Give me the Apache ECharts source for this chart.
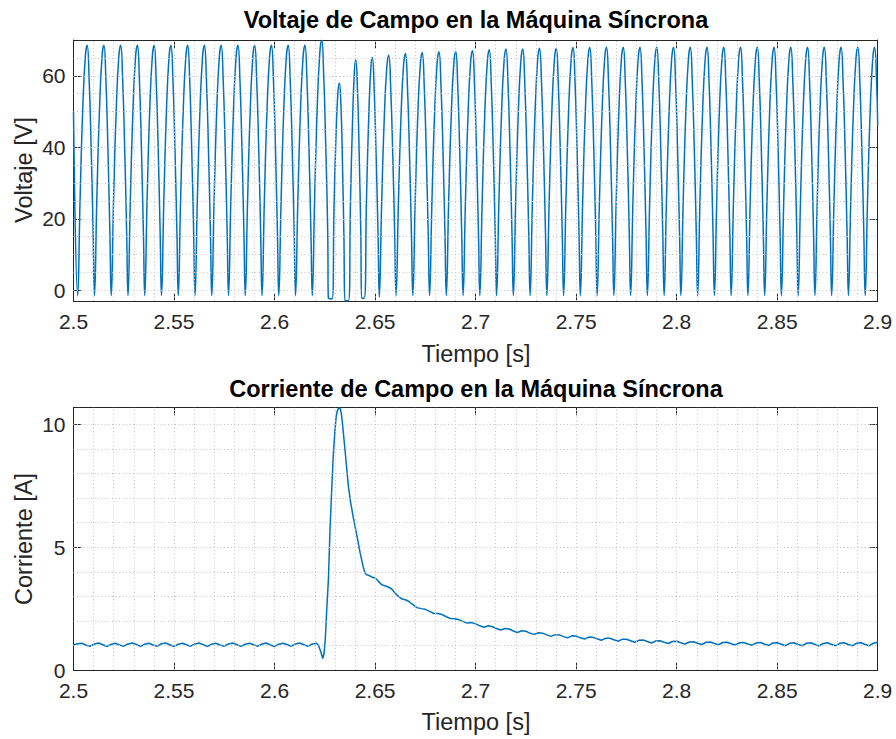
<!DOCTYPE html>
<html><head><meta charset="utf-8">
<script src="https://cdn.jsdelivr.net/npm/echarts@6/dist/echarts.min.js"></script>
<style>html,body{margin:0;padding:0;background:#fff}#c{width:896px;height:739px}</style>
</head><body><div id="c"></div>
<script>
// ---------- Voltage (top plot) ----------
const voltTime = [
2.5,
2.5021, 2.50327, 2.5046, 2.50585, 2.50677, 2.50777, 2.50877, 2.50977,
2.51043, 2.5116, 2.51293, 2.51418, 2.5151, 2.5161, 2.5171, 2.5181,
2.51877, 2.51994, 2.52127, 2.52252, 2.52344, 2.52444, 2.52544, 2.52644,
2.5271, 2.52827, 2.5296, 2.53085, 2.53177, 2.53277, 2.53377, 2.53477,
2.53543, 2.5366, 2.53793, 2.53918, 2.5401, 2.5411, 2.5421, 2.5431,
2.54377, 2.54494, 2.54627, 2.54752, 2.54844, 2.54944, 2.55044, 2.55144,
2.5521, 2.55327, 2.5546, 2.55585, 2.55677, 2.55777, 2.55877, 2.55977,
2.56043, 2.5616, 2.56293, 2.56418, 2.5651, 2.5661, 2.5671, 2.5681,
2.56877, 2.56994, 2.57127, 2.57252, 2.57344, 2.57444, 2.57544, 2.57644,
2.5771, 2.57827, 2.5796, 2.58085, 2.58177, 2.58277, 2.58377, 2.58477,
2.58543, 2.5866, 2.58793, 2.58918, 2.5901, 2.5911, 2.5921, 2.5931,
2.59377, 2.59494, 2.59627, 2.59752, 2.59844, 2.59944, 2.60044, 2.60144,
2.6021, 2.60327, 2.6046, 2.60585, 2.60677, 2.60777, 2.60877, 2.60977,
2.61043, 2.6116, 2.61293, 2.61418, 2.6151, 2.6161, 2.6171, 2.6181,
2.61877, 2.61994, 2.62127, 2.62252, 2.62344, 2.62444, 2.62544, 2.62644,
2.62675, 2.62865, 2.62958, 2.63058, 2.63148, 2.63221, 2.633, 2.6338, 2.6345,
2.63504, 2.63678, 2.63778, 2.63878, 2.63968, 2.64036, 2.6412, 2.6421, 2.6429,
2.64335, 2.64455, 2.64575, 2.64705, 2.648, 2.64862, 2.6495, 2.6505, 2.6515,
2.6521, 2.65327, 2.6546, 2.65585, 2.65677, 2.65777, 2.65877, 2.65977,
2.66043, 2.6616, 2.66293, 2.66418, 2.6651, 2.6661, 2.6671, 2.6681,
2.66877, 2.66994, 2.67127, 2.67252, 2.67344, 2.67444, 2.67544, 2.67644,
2.6771, 2.67827, 2.6796, 2.68085, 2.68177, 2.68277, 2.68377, 2.68477,
2.68543, 2.6866, 2.68793, 2.68918, 2.6901, 2.6911, 2.6921, 2.6931,
2.69377, 2.69494, 2.69627, 2.69752, 2.69844, 2.69944, 2.70044, 2.70144,
2.7021, 2.70327, 2.7046, 2.70585, 2.70677, 2.70777, 2.70877, 2.70977,
2.71043, 2.7116, 2.71293, 2.71418, 2.7151, 2.7161, 2.7171, 2.7181,
2.71877, 2.71994, 2.72127, 2.72252, 2.72344, 2.72444, 2.72544, 2.72644,
2.7271, 2.72827, 2.7296, 2.73085, 2.73177, 2.73277, 2.73377, 2.73477,
2.73543, 2.7366, 2.73793, 2.73918, 2.7401, 2.7411, 2.7421, 2.7431,
2.74377, 2.74494, 2.74627, 2.74752, 2.74844, 2.74944, 2.75044, 2.75144,
2.7521, 2.75327, 2.7546, 2.75585, 2.75677, 2.75777, 2.75877, 2.75977,
2.76043, 2.7616, 2.76293, 2.76418, 2.7651, 2.7661, 2.7671, 2.7681,
2.76877, 2.76994, 2.77127, 2.77252, 2.77344, 2.77444, 2.77544, 2.77644,
2.7771, 2.77827, 2.7796, 2.78085, 2.78177, 2.78277, 2.78377, 2.78477,
2.78543, 2.7866, 2.78793, 2.78918, 2.7901, 2.7911, 2.7921, 2.7931,
2.79377, 2.79494, 2.79627, 2.79752, 2.79844, 2.79944, 2.80044, 2.80144,
2.8021, 2.80327, 2.8046, 2.80585, 2.80677, 2.80777, 2.80877, 2.80977,
2.81043, 2.8116, 2.81293, 2.81418, 2.8151, 2.8161, 2.8171, 2.8181,
2.81877, 2.81994, 2.82127, 2.82252, 2.82344, 2.82444, 2.82544, 2.82644,
2.8271, 2.82827, 2.8296, 2.83085, 2.83177, 2.83277, 2.83377, 2.83477,
2.83543, 2.8366, 2.83793, 2.83918, 2.8401, 2.8411, 2.8421, 2.8431,
2.84377, 2.84494, 2.84627, 2.84752, 2.84844, 2.84944, 2.85044, 2.85144,
2.8521, 2.85327, 2.8546, 2.85585, 2.85677, 2.85777, 2.85877, 2.85977,
2.86043, 2.8616, 2.86293, 2.86418, 2.8651, 2.8661, 2.8671, 2.8681,
2.86877, 2.86994, 2.87127, 2.87252, 2.87344, 2.87444, 2.87544, 2.87644,
2.8771, 2.87827, 2.8796, 2.88085, 2.88177, 2.88277, 2.88377, 2.88477,
2.88543, 2.8866, 2.88793, 2.88918, 2.8901, 2.8911, 2.8921, 2.8931,
2.89377, 2.89494, 2.89627, 2.89752, 2.89844, 2.89944, 2.9
];
const voltValue = [
50,
-1.5, 25.3, 50.7, 65.2, 68.5, 59, 40, 16,
-1.5, 25.3, 50.7, 65.2, 68.5, 59, 40, 16,
-1.5, 25.3, 50.7, 65.2, 68.5, 59, 40, 16,
-1.5, 25.3, 50.7, 65.2, 68.5, 59, 40, 16,
-1.5, 25.3, 50.7, 65.2, 68.5, 59, 40, 16,
-1.5, 25.3, 50.7, 65.2, 68.5, 59, 40, 16,
-1.5, 25.3, 50.7, 65.2, 68.5, 59, 40, 16,
-1.5, 25.3, 50.7, 65.2, 68.5, 59, 40, 16,
-1.5, 25.3, 50.7, 65.2, 68.5, 59, 40, 16,
-1.5, 25.3, 50.7, 65.2, 68.5, 59, 40, 16,
-1.5, 25.3, 50.7, 65.2, 68.5, 59, 40, 16,
-1.5, 25.3, 50.7, 65.2, 68.5, 59, 40, 16,
-1.5, 25.3, 50.7, 65.2, 68.5, 59, 40, 16,
-1.5, 25.3, 50.7, 65.2, 68.5, 59, 40, 16,
-1.5, 25.8, 51.7, 66.5, 69.9, 60.3, 40.8, 16.4,
-2.2, -2.4, 23, 43.6, 55, 58, 52, 35, 15,
-2.9, -2.9, 25, 47, 61, 64.5, 57, 38, 16,
-2.2, -2.2, 26, 52, 63, 65.1, 57, 38, 15,
-1.9, 24.2, 48.6, 62.5, 65.7, 56.6, 38.3, 15.3,
-1.5, 24.4, 49.0, 63.0, 66.2, 57.0, 38.6, 15.4,
-1.5, 24.5, 49.2, 63.3, 66.5, 57.3, 38.8, 15.5,
-1.5, 24.6, 49.4, 63.5, 66.7, 57.4, 39.0, 15.6,
-1.5, 24.7, 49.4, 63.6, 66.8, 57.5, 39.0, 15.6,
-1.5, 24.7, 49.6, 63.8, 67.0, 57.7, 39.1, 15.6,
-1.5, 24.9, 49.8, 64.1, 67.3, 58.0, 39.3, 15.7,
-1.5, 24.9, 50.0, 64.3, 67.5, 58.1, 39.4, 15.8,
-1.5, 24.9, 50.0, 64.3, 67.5, 58.1, 39.4, 15.8,
-1.5, 25.0, 50.1, 64.4, 67.7, 58.3, 39.5, 15.8,
-1.5, 25.0, 50.1, 64.4, 67.7, 58.3, 39.5, 15.8,
-1.5, 25.1, 50.3, 64.6, 67.9, 58.5, 39.7, 15.9,
-1.5, 25.1, 50.3, 64.6, 67.9, 58.5, 39.7, 15.9,
-1.5, 25.1, 50.3, 64.7, 68.0, 58.5, 39.7, 15.9,
-1.5, 25.1, 50.3, 64.7, 68.0, 58.5, 39.7, 15.9,
-1.5, 25.1, 50.3, 64.7, 68.0, 58.5, 39.7, 15.9,
-1.5, 25.1, 50.3, 64.7, 68.0, 58.5, 39.7, 15.9,
-1.5, 25.1, 50.3, 64.7, 68.0, 58.5, 39.7, 15.9,
-1.5, 25.1, 50.3, 64.7, 68.0, 58.5, 39.7, 15.9,
-1.5, 25.1, 50.3, 64.7, 68.0, 58.5, 39.7, 15.9,
-1.5, 25.1, 50.3, 64.7, 68.0, 58.5, 39.7, 15.9,
-1.5, 25.1, 50.3, 64.7, 68.0, 58.5, 39.7, 15.9,
-1.5, 25.1, 50.3, 64.7, 68.0, 58.5, 39.7, 15.9,
-1.5, 25.1, 50.3, 64.7, 68.0, 58.5, 39.7, 15.9,
-1.5, 25.1, 50.3, 64.7, 68.0, 58.5, 39.7, 15.9,
-1.5, 25.1, 50.3, 64.7, 68.0, 58.5, 39.7, 15.9,
-1.5, 25.1, 50.3, 64.7, 68.0, 58.5, 39.7, 15.9,
-1.5, 25.1, 50.3, 64.7, 68.0, 58.5, 39.7, 15.9,
-1.5, 25.1, 50.3, 64.7, 68.0, 58.5, 39.7, 15.9,
-1.5, 25.1, 50.3, 64.7, 68.0, 58.5, 46
];

// ---------- Current (bottom plot) ----------
const currTime = [
2.5, 2.5021, 2.5042, 2.5063, 2.5083, 2.5104, 2.5125, 2.5146, 2.5167, 2.5188, 2.5208, 2.5229,
2.525, 2.5271, 2.5292, 2.5313, 2.5333, 2.5354, 2.5375, 2.5396, 2.5417, 2.5438, 2.5458, 2.5479,
2.55, 2.5521, 2.5542, 2.5563, 2.5583, 2.5604, 2.5625, 2.5646, 2.5667, 2.5688, 2.5708, 2.5729,
2.575, 2.5771, 2.5792, 2.5813, 2.5833, 2.5854, 2.5875, 2.5896, 2.5917, 2.5938, 2.5958, 2.5979,
2.6, 2.6021, 2.6042, 2.6063, 2.6083, 2.6104, 2.6125, 2.6146, 2.6167, 2.6188, 2.6208,
2.6218, 2.623, 2.624, 2.6246, 2.6252, 2.6259, 2.6268, 2.6276, 2.6284, 2.6292, 2.63, 2.6306,
2.6312, 2.6317, 2.6322, 2.6327, 2.6332, 2.6337, 2.6343, 2.635, 2.6358, 2.6367, 2.6379, 2.6392,
2.6409, 2.6425, 2.6441, 2.645, 2.6458, 2.647, 2.6483, 2.6495, 2.6508, 2.652, 2.6533, 2.6545,
2.6558, 2.657, 2.6583, 2.6595, 2.6608, 2.662, 2.6632, 2.6645, 2.6657, 2.667, 2.6682, 2.6695, 2.6708,
2.6729, 2.675, 2.6771, 2.6792, 2.6813, 2.6833, 2.6854, 2.6875, 2.6896, 2.6917, 2.6938, 2.6958,
2.6979, 2.7, 2.7021, 2.7042, 2.7063, 2.7083, 2.7104, 2.7125, 2.7146, 2.7167, 2.7188, 2.7208,
2.7229, 2.725, 2.7271, 2.7292, 2.7313, 2.7333, 2.7354, 2.7375, 2.7396, 2.7417, 2.7438, 2.7458,
2.7479, 2.75, 2.7521, 2.7542, 2.7563, 2.7583, 2.7604, 2.7625, 2.7646, 2.7667, 2.7688, 2.7708,
2.7729, 2.775, 2.7771, 2.7792, 2.7813, 2.7833, 2.7854, 2.7875, 2.7896, 2.7917, 2.7938, 2.7958,
2.7979, 2.8, 2.8021, 2.8042, 2.8063, 2.8083, 2.8104, 2.8125, 2.8146, 2.8167, 2.8188, 2.8208,
2.8229, 2.825, 2.8271, 2.8292, 2.8313, 2.8333, 2.8354, 2.8375, 2.8396, 2.8417, 2.8438, 2.8458,
2.8479, 2.85, 2.8521, 2.8542, 2.8563, 2.8583, 2.8604, 2.8625, 2.8646, 2.8667, 2.8688, 2.8708,
2.8729, 2.875, 2.8771, 2.8792, 2.8813, 2.8833, 2.8854, 2.8875, 2.8896, 2.8917, 2.8938, 2.8958,
2.8979, 2.9
];
const currValue = [
1.03, 1.07, 1.09, 1.01, 0.97, 1.06, 1.10, 1.03, 0.96, 1.05, 1.09, 1.02,
0.97, 1.06, 1.10, 1.04, 0.96, 1.05, 1.09, 1.02, 0.97, 1.07, 1.10, 1.03,
0.96, 1.05, 1.09, 1.02, 0.97, 1.06, 1.10, 1.03, 0.96, 1.05, 1.09, 1.02,
0.97, 1.06, 1.10, 1.03, 0.96, 1.05, 1.09, 1.03, 0.97, 1.06, 1.10, 1.02,
0.96, 1.05, 1.09, 1.03, 0.97, 1.06, 1.10, 1.03, 0.97, 1.06, 1.09,
1.02, 0.74, 0.47, 0.66, 1.2, 2.37, 3.7, 5.76, 7.3, 8.74, 9.7, 10.3,
10.55, 10.65, 10.68, 10.64, 10.45, 10.1, 9.6, 9.0, 8.3, 7.5, 6.8, 6.2,
5.5, 4.8, 4.2, 3.95, 3.88, 3.85, 3.79, 3.76, 3.7, 3.58, 3.47, 3.44,
3.4, 3.36, 3.3, 3.18, 3.06, 2.98, 2.9, 2.87, 2.84, 2.78, 2.7, 2.62, 2.54,
2.50, 2.47, 2.39, 2.30, 2.30, 2.26, 2.17, 2.10, 2.09, 2.05, 1.97, 1.91,
1.93, 1.88, 1.80, 1.74, 1.80, 1.76, 1.69, 1.63, 1.69, 1.67, 1.59, 1.53,
1.60, 1.58, 1.50, 1.45, 1.52, 1.50, 1.43, 1.37, 1.44, 1.43, 1.36, 1.31,
1.39, 1.38, 1.31, 1.26, 1.34, 1.33, 1.27, 1.21, 1.29, 1.29, 1.23, 1.17,
1.25, 1.25, 1.19, 1.13, 1.21, 1.22, 1.16, 1.10, 1.18, 1.19, 1.13, 1.08,
1.16, 1.17, 1.11, 1.06, 1.14, 1.15, 1.09, 1.04, 1.13, 1.14, 1.08, 1.03,
1.12, 1.13, 1.07, 1.02, 1.11, 1.12, 1.06, 1.01, 1.10, 1.12, 1.05, 1.00,
1.10, 1.11, 1.05, 0.99, 1.09, 1.11, 1.04, 0.99, 1.09, 1.11, 1.04, 0.98,
1.08, 1.11, 1.04, 0.99, 1.09, 1.11, 1.04, 0.99, 1.09, 1.11, 1.04, 0.99,
1.09, 1.13
];

// ---------- Ticks and grid values ----------
const timeRange = [2.5, 2.9];
const voltRange = [-3, 70];
const currRange = [0, 10.7];
const voltYTicks = [0, 20, 40, 60];
const currYTicks = [0, 5, 10];
const timeGrid = [2.51,2.52,2.53,2.54,2.55,2.56,2.57,2.58,2.59,2.6,2.61,2.62,2.63,2.64,2.65,2.66,2.67,2.68,2.69,2.7,2.71,2.72,2.73,2.74,2.75,2.76,2.77,2.78,2.79,2.8,2.81,2.82,2.83,2.84,2.85,2.86,2.87,2.88,2.89];
const voltGridY = [0,5,10,15,20,25,30,35,40,45,50,55,60,65];
const currGridY = [1,2,3,4,5,6,7,8,9,10];

const FONT = "'Liberation Sans', Arial, Helvetica, sans-serif";
const AX = '#262626';
const LINE = '#0072BD';
const GRIDC = '#c4c4c4';

function xAxisDef(g, pos, labels) {
  return {
    type: 'value', gridIndex: g, position: pos, min: timeRange[0], max: timeRange[1], interval: 0.05,
    axisLine: {show: true, onZero: false, lineStyle: {color: AX, width: 1}},
    axisTick: {show: true, inside: true, length: 8, lineStyle: {color: AX, width: 1}},
    axisLabel: {show: labels, margin: 10, lineHeight: 21, color: AX, fontSize: 21, fontFamily: FONT,
      formatter: v => String(+v.toFixed(2))},
    splitLine: {show: false}
  };
}
function yAxisDef(g, pos, labels, range, ticks) {
  return {
    type: 'value', gridIndex: g, position: pos, min: range[0], max: range[1],
    axisLine: {show: true, onZero: false, lineStyle: {color: AX, width: 1}},
    axisTick: {show: true, inside: true, length: 8, customValues: ticks, lineStyle: {color: AX, width: 1}},
    axisLabel: {show: labels, margin: 8, lineHeight: 18, color: AX, fontSize: 21, fontFamily: FONT, customValues: ticks},
    splitLine: {show: false}
  };
}
function gridSeries(xi, yi, yVals) {
  return {
    type: 'line', xAxisIndex: xi, yAxisIndex: yi, data: [], silent: true, z: 1,
    markLine: {
      silent: true, symbol: ['none', 'none'], animation: false,
      label: {show: false},
      lineStyle: {type: [1, 2.5], color: GRIDC, width: 1},
      emphasis: {disabled: true},
      data: timeGrid.map(x => ({xAxis: x})).concat(yVals.map(y => ({yAxis: y})))
    }
  };
}
function txt(text, x, y, size, bold, rot) {
  return {
    type: 'text', x: x, y: y, rotation: rot || 0, silent: true,
    style: {text: text, font: (bold ? 'bold ' : '') + size + 'px ' + FONT,
      fill: bold ? '#000' : AX, align: 'center', verticalAlign: 'middle',
      textAlign: 'center', textVerticalAlign: 'middle'}
  };
}

const chart = echarts.init(document.getElementById('c'), null, {renderer: 'svg', width: 896, height: 739});
chart.setOption({
  animation: false,
  backgroundColor: '#fff',
  grid: [
    {left: 73.5, right: 18.3, top: 40, height: 261, containLabel: false},
    {left: 73.5, right: 18.3, top: 407.3, height: 262.7, containLabel: false}
  ],
  xAxis: [xAxisDef(0, 'bottom', true), xAxisDef(0, 'top', false), xAxisDef(1, 'bottom', true), xAxisDef(1, 'top', false)],
  yAxis: [yAxisDef(0, 'left', true, voltRange, voltYTicks), yAxisDef(0, 'right', false, voltRange, voltYTicks),
          yAxisDef(1, 'left', true, currRange, currYTicks), yAxisDef(1, 'right', false, currRange, currYTicks)],
  series: [
    gridSeries(0, 0, voltGridY),
    gridSeries(2, 2, currGridY),
    {type: 'line', xAxisIndex: 0, yAxisIndex: 0, z: 3, smooth: 0.5, symbol: 'none', showSymbol: false, clip: true,
     lineStyle: {color: LINE, width: 1.5}, data: voltTime.map((t, i) => [t, voltValue[i]])},
    {type: 'line', xAxisIndex: 2, yAxisIndex: 2, z: 3, symbol: 'none', showSymbol: false, clip: true,
     lineStyle: {color: LINE, width: 1.5}, data: currTime.map((t, i) => [t, currValue[i]])}
  ],
  graphic: [
    txt('Voltaje de Campo en la Máquina Síncrona', 476, 20, 23.5, true),
    txt('Voltaje [V]', 24, 170, 23.5, false, Math.PI / 2),
    txt('Tiempo [s]', 476, 354, 23.5, false),
    txt('Corriente de Campo en la Máquina Síncrona', 476, 389, 23.5, true),
    txt('Corriente [A]', 24, 539, 23.5, false, Math.PI / 2),
    txt('Tiempo [s]', 476, 722, 23.5, false)
  ]
});
</script>
</body></html>
